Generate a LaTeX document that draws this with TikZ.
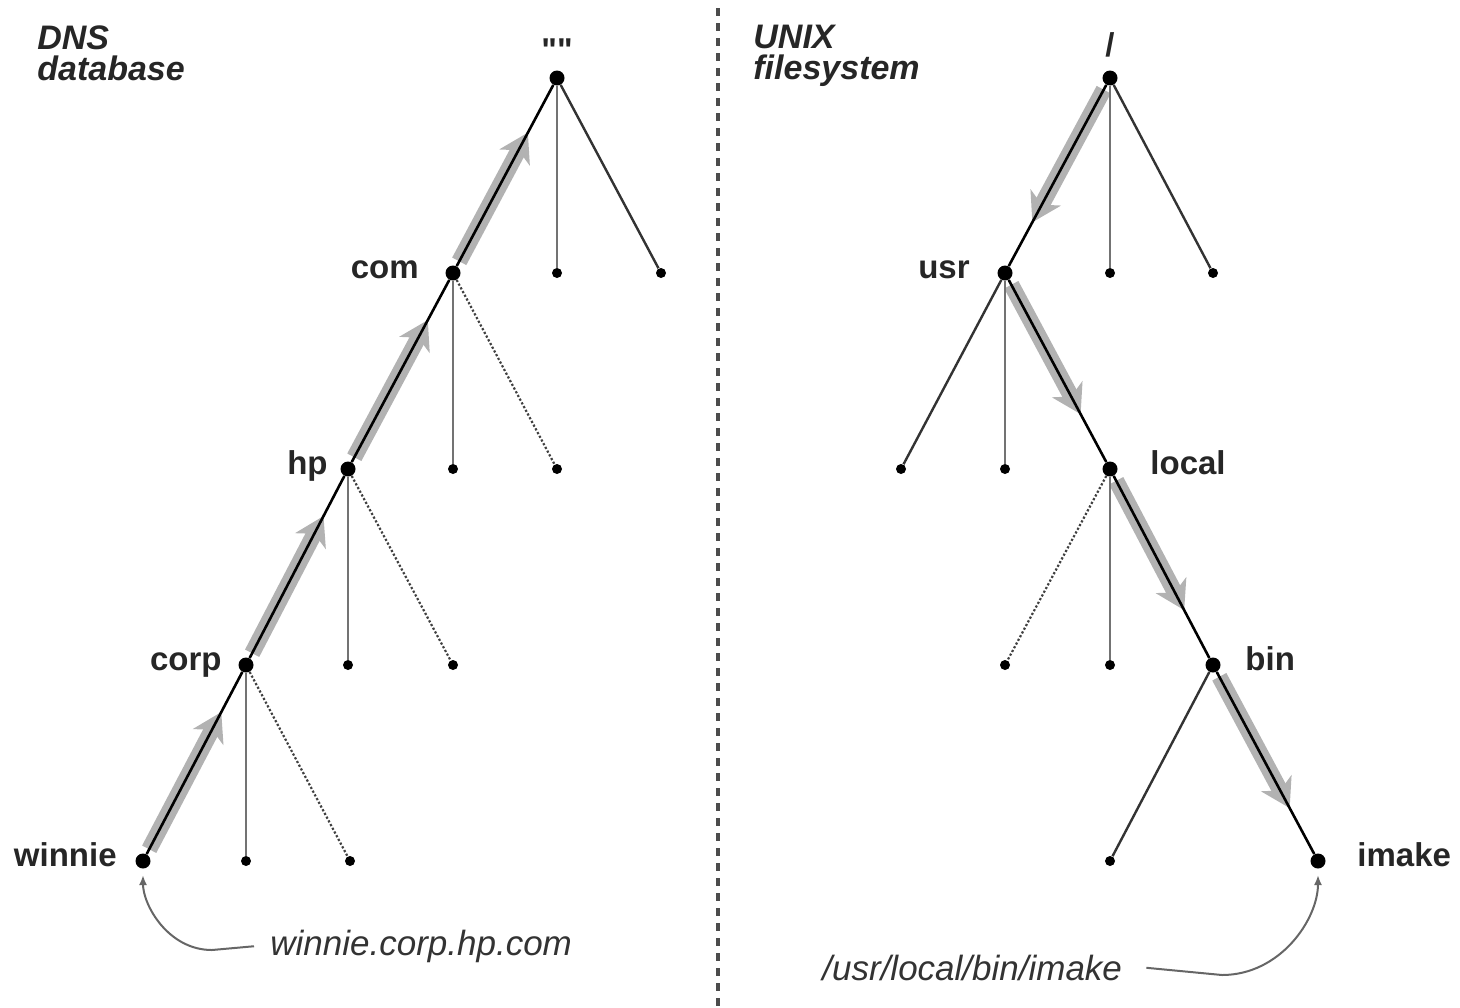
\documentclass[tikz,border=0pt]{standalone}
\usepackage{fontspec}
\setmainfont{Liberation Sans}
\usetikzlibrary{arrows.meta,calc}

\begin{document}
\begin{tikzpicture}[x=0.5pt,y=-0.5pt,
	dot/.style={circle, fill=black, inner sep=0pt, minimum size=7.5pt},
	leaf/.style={circle, fill=black, inner sep=0pt, minimum size=5pt},
	lbl/.style={inner sep=0pt, font=\fontsize{16.5}{18}\selectfont\bfseries, text=black!85},
	title/.style={inner sep=0pt, align=left, font=\fontsize{17}{15.5}\selectfont\bfseries\itshape, text=black!85},
	fqdn/.style={inner sep=0pt, font=\fontsize{17.5}{20}\selectfont\itshape, text=black!80},
	hop/.style={line width=1.3pt, black},
	twig/.style={line width=1.2pt, black!80},
	stub/.style={line width=1.3pt, black!55},
	ghost/.style={line width=1.1pt, black!75, densely dotted},
	walk/.style={line width=8pt, black!30, -{Stealth[length=14pt,width=17pt,inset=4pt]}},
	divider/.style={line width=2pt, black!70, dash pattern=on 4pt off 3.5pt},
	pointer/.style={line width=1pt, black!60, -{Latex[length=5pt,width=4pt]}}]
	\useasboundingbox (0,0) rectangle (1460,1007);

	\node[title, anchor=north west] (dnstitle) at (37,25) {DNS\\database};
	\node[title, anchor=north west] (unixtitle) at (753,25) {UNIX\\filesystem};

	\coordinate (divtop) at (718,8);
	\coordinate (divbot) at (718,1007);
	\draw[divider] (divtop) -- (divbot);

	\node[dot] (root) at (557,78) {};
	\node[leaf] (rootb) at (557,273) {};
	\node[leaf] (rootc) at (661,273) {};
	\node[dot] (com) at (453,273) {};
	\node[leaf] (comb) at (453,469) {};
	\node[leaf] (comc) at (557,469) {};
	\node[dot] (hp) at (348,469) {};
	\node[leaf] (hpb) at (348,665) {};
	\node[leaf] (hpc) at (453,665) {};
	\node[dot] (corp) at (246,665) {};
	\node[leaf] (corpb) at (246,861) {};
	\node[leaf] (corpc) at (350,861) {};
	\node[dot] (winnie) at (143,861) {};

	\node[lbl] (roottxt) at (557,50) {\addfontfeatures{Ligatures=TeXOff}""};
	\node[lbl, anchor=mid east] (comtxt) at (419,273) {com};
	\node[lbl, anchor=mid east] (hptxt) at (328,469) {hp};
	\node[lbl, anchor=mid east] (corptxt) at (222,665) {corp};
	\node[lbl, anchor=mid east] (winnietxt) at (117,861) {winnie};

	\node[dot] (slash) at (1110,78) {};
	\node[leaf] (slashb) at (1110,273) {};
	\node[leaf] (slashc) at (1213,273) {};
	\node[dot] (usr) at (1005,273) {};
	\node[leaf] (usra) at (901,469) {};
	\node[leaf] (usrb) at (1005,469) {};
	\node[dot] (local) at (1110,469) {};
	\node[leaf] (locala) at (1005,665) {};
	\node[leaf] (localb) at (1110,665) {};
	\node[dot] (bin) at (1213,665) {};
	\node[leaf] (bina) at (1110,861) {};
	\node[dot] (imake) at (1318,861) {};

	\node[lbl] (slashtxt) at (1110,45) {/};
	\node[lbl, anchor=mid east] (usrtxt) at (970,273) {usr};
	\node[lbl, anchor=mid west] (localtxt) at (1150,469) {local};
	\node[lbl, anchor=mid west] (bintxt) at (1245,665) {bin};
	\node[lbl, anchor=mid west] (imaketxt) at (1357,861) {imake};

	\draw[walk] ($(winnie)!0.06!(corp)$) -- ($(winnie)!0.76!(corp)$);
	\draw[walk] ($(corp)!0.06!(hp)$) -- ($(corp)!0.76!(hp)$);
	\draw[walk] ($(hp)!0.06!(com)$) -- ($(hp)!0.76!(com)$);
	\draw[walk] ($(com)!0.06!(root)$) -- ($(com)!0.72!(root)$);
	\draw[walk] ($(slash)!0.06!(usr)$) -- ($(slash)!0.74!(usr)$);
	\draw[walk] ($(usr)!0.06!(local)$) -- ($(usr)!0.72!(local)$);
	\draw[walk] ($(local)!0.06!(bin)$) -- ($(local)!0.72!(bin)$);
	\draw[walk] ($(bin)!0.06!(imake)$) -- ($(bin)!0.73!(imake)$);

	\draw[hop] (root) -- (com);
	\draw[stub] (root) -- (rootb);
	\draw[twig] (root) -- (rootc);
	\draw[hop] (com) -- (hp);
	\draw[stub] (com) -- (comb);
	\draw[ghost] (com) -- (comc);
	\draw[hop] (hp) -- (corp);
	\draw[stub] (hp) -- (hpb);
	\draw[ghost] (hp) -- (hpc);
	\draw[hop] (corp) -- (winnie);
	\draw[stub] (corp) -- (corpb);
	\draw[ghost] (corp) -- (corpc);

	\draw[hop] (slash) -- (usr);
	\draw[stub] (slash) -- (slashb);
	\draw[twig] (slash) -- (slashc);
	\draw[twig] (usr) -- (usra);
	\draw[stub] (usr) -- (usrb);
	\draw[hop] (usr) -- (local);
	\draw[ghost] (local) -- (locala);
	\draw[stub] (local) -- (localb);
	\draw[hop] (local) -- (bin);
	\draw[twig] (bin) -- (bina);
	\draw[hop] (bin) -- (imake);

	\node[fqdn, anchor=mid west] (dnsname) at (270,950) {winnie.corp.hp.com};
	\node[fqdn, anchor=mid west] (unixname) at (822,975) {/usr/local/bin/imake};
	\coordinate (dnsbend) at (212,950);
	\coordinate (unixbend) at (1222,975);
	\draw[pointer, shorten >=7pt] ([xshift=-8pt]dnsname.west) -- (dnsbend) to[out=180, in=-90] (winnie.center);
	\draw[pointer, shorten >=7pt] ([xshift=12pt]unixname.east) -- (unixbend) to[out=0, in=-90] (imake.center);
\end{tikzpicture}
\end{document}
